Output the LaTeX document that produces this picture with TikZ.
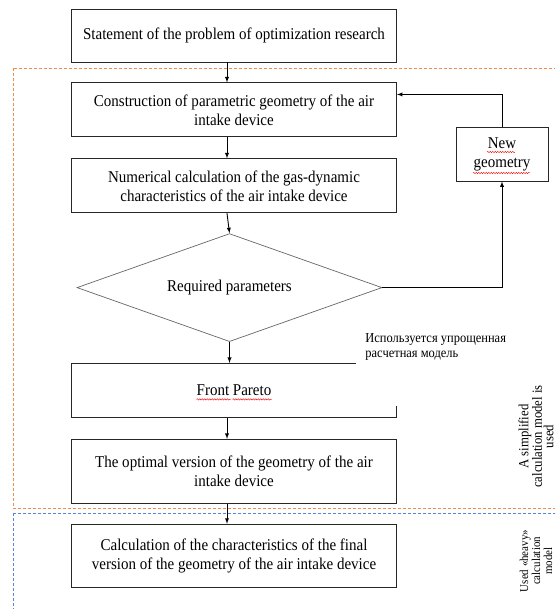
\documentclass[tikz,border=0pt]{standalone}
\usepackage{fontspec}
\setmainfont[FakeStretch=0.91]{Liberation Serif}
\usetikzlibrary{arrows,positioning,shapes.geometric,decorations.pathmorphing}
\definecolor{zoneorange}{RGB}{240,140,80}
\definecolor{zoneblue}{RGB}{90,130,225}

\begin{document}
\begin{tikzpicture}[->,>=latex,line width=0.9pt,x=1pt,y=-1pt,
    blk/.style={draw=black!85,minimum width=325pt,minimum height=54pt,align=center,inner sep=2pt,font=\fontsize{16.5}{19}\selectfont},
    decision/.style={diamond,draw=black!60,line width=0.7pt,aspect=2.8,minimum width=305pt,minimum height=108pt,inner sep=0pt,font=\fontsize{16.5}{19}\selectfont},
    note/.style={anchor=north west,fill=white,align=left,inner xsep=9pt,inner ysep=3pt,font=\fontsize{13.7}{15}\selectfont},
    zonelabel/.style={rotate=90,align=center,inner sep=0pt,font=\fontsize{14}{11.5}\selectfont},
    zone/.style={-,dash pattern=on 3pt off 2pt,line width=0.9pt},
    wave/.style={-,red,line width=0.4pt,decorate,decoration={snake,amplitude=0.7pt,segment length=2.5pt}}]
  \useasboundingbox (0,0) rectangle (555,609);
  \clip (0,0) rectangle (555,609);

  % zones
  \draw[zone,draw=zoneorange] (13,68) rectangle (600,508);
  \draw[zone,draw=zoneblue] (13,513) rectangle (600,650);

  \node[blk,minimum height=53pt] (task) at (234,35.5) {Statement of the problem of optimization research};
  \node[blk] (geom) [below=20pt of task] {Construction of parametric geometry of the air\\intake device};
  \node[blk] (calc) [below=21pt of geom] {Numerical calculation of the gas-dynamic\\characteristics of the air intake device};
  \node[decision] (check) [below=20pt of calc,xshift=-4.5pt] {Required parameters};
  \node[blk] (pareto) [below=21pt of check,xshift=4.5pt] {Front Pareto};
  \node[blk,minimum height=64pt] (best) [below=21pt of pareto] {The optimal version of the geometry of the air\\intake device};
  \node[blk,minimum height=63pt] (final) [below=20pt of best] {Calculation of the characteristics of the final\\version of the geometry of the air intake device};
  \node[blk,minimum width=92pt,minimum height=54pt] (newgeom) at (502,154) {New\\geometry};
  \coordinate (axis) at (227,0);

  % spell-check underlines
  \draw[wave] ([xshift=-37.5pt,yshift=-9pt]pareto.center) -- ([xshift=-3.5pt,yshift=-9pt]pareto.center);
  \draw[wave] ([xshift=-1.5pt,yshift=-9pt]pareto.center) -- ([xshift=37.5pt,yshift=-9pt]pareto.center);
  \draw[wave] ([xshift=-15pt,yshift=2pt]newgeom.center) -- ([xshift=13pt,yshift=2pt]newgeom.center);
  \draw[wave] ([xshift=-29pt,yshift=-19pt]newgeom.center) -- ([xshift=28pt,yshift=-19pt]newgeom.center);

  \node[note] (simple) at (356,330) {Используется упрощенная\\расчетная модель\rule[-46pt]{0pt}{0pt}};

  \node[zonelabel] (simplelbl) at (536,436.5) {A simplified\\calculation model is\\used};
  \node[zonelabel,font=\fontsize{12}{12}\selectfont] (heavylbl) at (536,561) {Used «heavy»\\calculation\\model};

  \path (task.south -| axis) edge (geom.north -| axis)
        (geom.south -| axis) edge (calc.north -| axis)
        (calc.south -| axis) edge (check.north)
        (check.south) edge (pareto.north -| check.south)
        (pareto.south -| axis) edge (best.north -| axis)
        (best.south -| axis) edge (final.north -| axis);
  \draw (check.east) -| (newgeom.south);
  \draw (newgeom.north) |- ([yshift=-12pt]geom.north east);
\end{tikzpicture}
\end{document}
